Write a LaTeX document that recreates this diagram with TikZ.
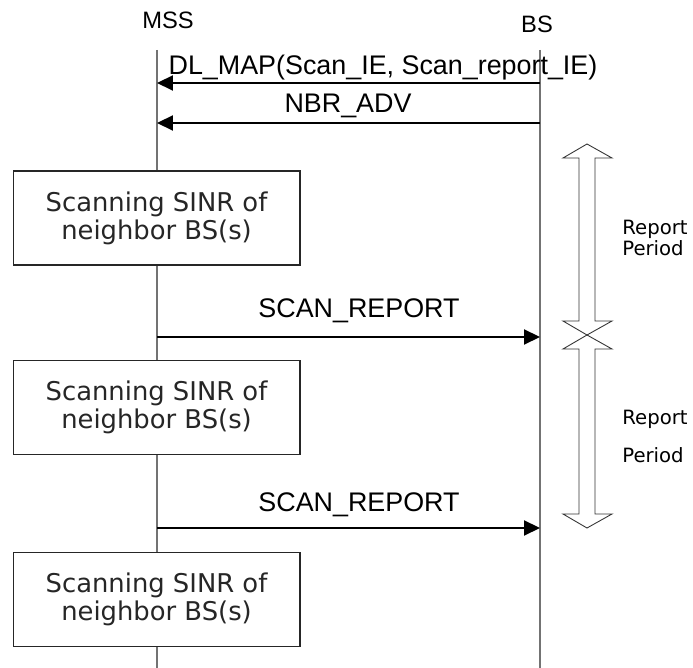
\documentclass[tikz,border=0pt]{standalone}
\usepackage{fontspec}
\setmainfont{Liberation Sans}
\newfontfamily\boxfont{DejaVu Sans}
\usetikzlibrary{arrows.meta}
\newcommand{\drawPeriod}[3]{
  \draw[period] (587,#1) -- (612,#1+14) -- (595,#1+14) -- (595,#2-14) -- (612,#2-14)
    -- (587,#2) -- (563,#2-14) -- (579,#2-14) -- (579,#1+14) -- (563,#1+14) -- cycle;
  \coordinate (#3) at (587,{(#1+#2)/2});
}
\tikzset{
  lifeline/.style={draw=black!55, line width=0.6pt},
  msg/.style={line width=1.2pt, -{Triangle[length=3.2mm, width=3mm]}},
  msglabel/.style={anchor=base, inner sep=0pt, font=\fontsize{15.3}{18}\selectfont},
  headlabel/.style={anchor=base, inner sep=0pt, font=\fontsize{13.5}{15}\selectfont},
  scanbox/.style={draw=black!85, fill=white, line width=0.6pt, minimum width=5.74cm,
    minimum height=1.88cm, align=center, text=black!85,
    font=\boxfont\fontsize{14.7}{15.9}\selectfont},
  period/.style={draw=black!80, line width=0.5pt},
  periodlabel/.style={anchor=north west, inner sep=0pt, align=left,
    font=\boxfont\fontsize{11.2}{11.6}\selectfont}
}
\begin{document}
\begin{tikzpicture}[x=0.02cm, y=-0.02cm]
  \useasboundingbox (0,0) rectangle (693,668);
  % Nodes
  \node[headlabel] (MSS) at (168,29) {MSS};
  \node[headlabel] (BS) at (537,33) {BS};
  \coordinate (mssTop) at (157,50);
  \coordinate (mssBot) at (157,668);
  \coordinate (bsTop) at (540,50);
  \coordinate (bsBot) at (540,668);
  \draw[lifeline] (mssTop) -- (mssBot);
  \draw[lifeline] (bsTop) -- (bsBot);

  % Messages
  \coordinate (dlB) at (540,83);   \coordinate (dlM) at (157,83);
  \coordinate (nbrB) at (540,123); \coordinate (nbrM) at (157,123);
  \coordinate (scanM1) at (157,337); \coordinate (scanB1) at (540,337);
  \coordinate (scanM2) at (157,528); \coordinate (scanB2) at (540,528);
  \draw[msg] (dlB) -- (dlM);
  \node[msglabel] (dlLabel) at (383,75) {DL\_MAP(Scan\_IE, Scan\_report\_IE)};
  \draw[msg] (nbrB) -- (nbrM);
  \node[msglabel] (nbrLabel) at (348,113) {NBR\_ADV};
  \draw[msg] (scanM1) -- (scanB1);
  \node[msglabel] (scanLabel1) at (359,318) {SCAN\_REPORT};
  \draw[msg] (scanM2) -- (scanB2);
  \node[msglabel] (scanLabel2) at (359,512) {SCAN\_REPORT};

  % Scanning boxes
  \node[scanbox] (scan1) at (156.5,218) {Scanning SINR of\\neighbor BS(s)};
  \node[scanbox] (scan2) at (156.5,407.5) {Scanning SINR of\\neighbor BS(s)};
  \node[scanbox] (scan3) at (156.5,599.5) {Scanning SINR of\\neighbor BS(s)};

  % Report periods
  \drawPeriod{144}{335}{period1}
  \drawPeriod{335}{528}{period2}
  \node[periodlabel] (periodLabel1) at (622,220) {Report\\Period};
  \node[periodlabel] (periodLabel2) at (622,410) {Report\\[10pt]Period};
\end{tikzpicture}
\end{document}
